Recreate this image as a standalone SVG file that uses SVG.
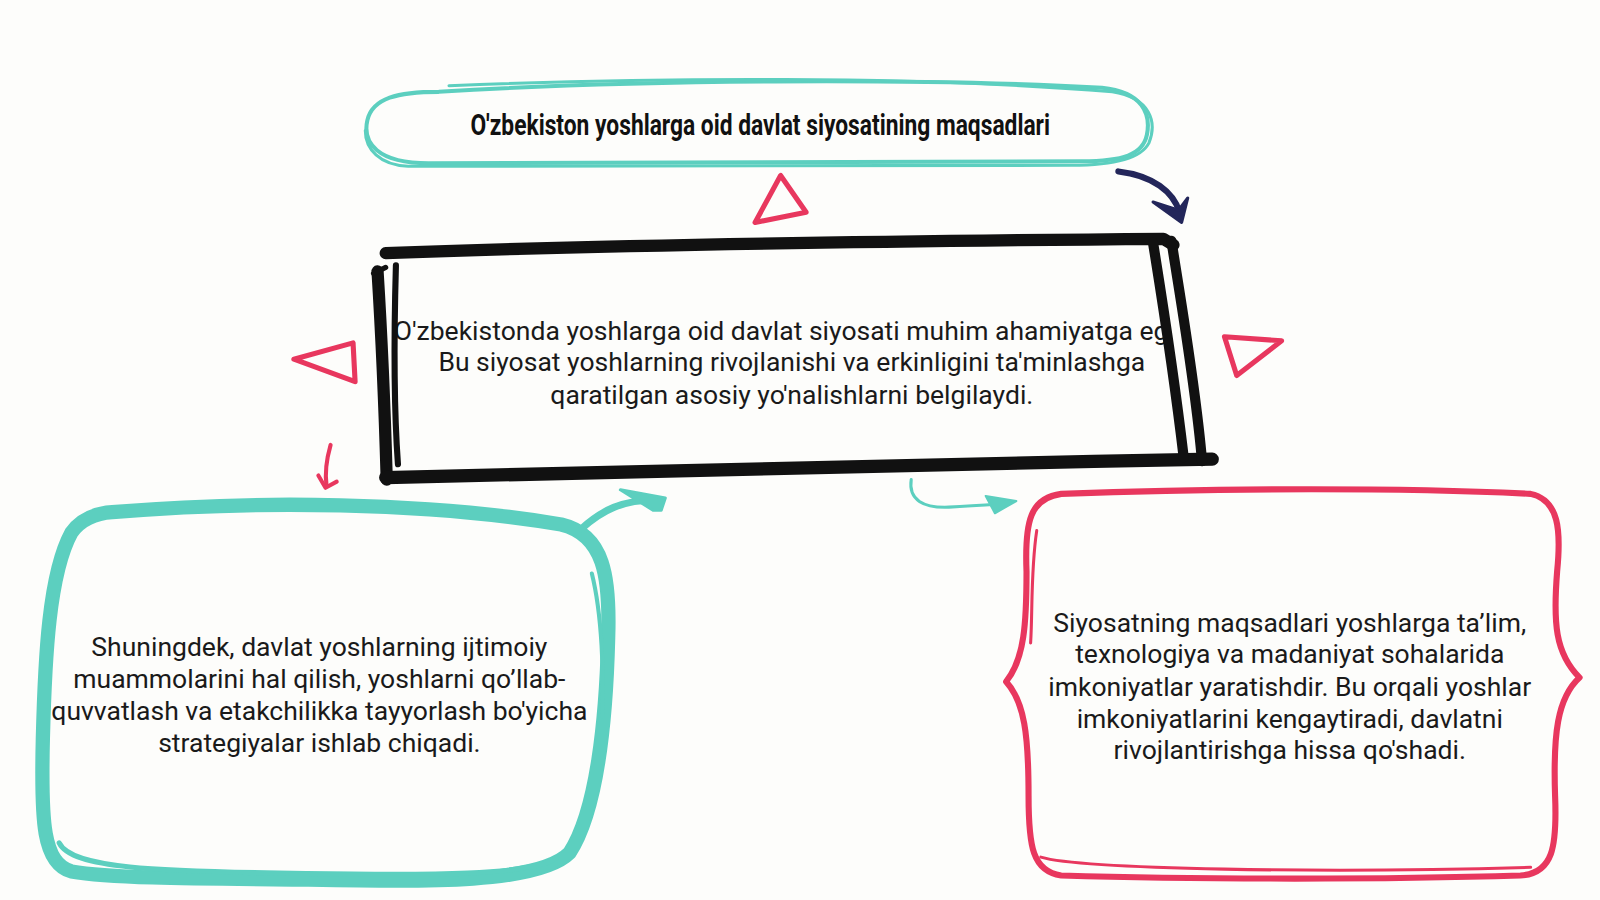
<svg xmlns="http://www.w3.org/2000/svg" width="1600" height="900" viewBox="0 0 1600 900">
<style>
.teal{fill:none;stroke:#5CCFBF;stroke-linecap:round;stroke-linejoin:round}
.pink{fill:none;stroke:#E8375E;stroke-linecap:round;stroke-linejoin:round}
.blk{fill:none;stroke:#111;stroke-linecap:round;stroke-linejoin:round}
.txt{font-family:Roboto,"Liberation Sans",sans-serif;font-size:26px;fill:#1a1a1a;text-anchor:middle}
.ttl{font-family:Roboto,"Liberation Sans",sans-serif;font-size:28px;font-weight:bold;fill:#111;text-anchor:middle}
</style>
<defs>
  <clipPath id="cclip"><rect x="360" y="230" width="785" height="240"/></clipPath>
</defs>
<rect width="1600" height="900" fill="#FDFDFB"/>
<g transform="scale(1.0204)">

<g id="title">
  <path class="teal" stroke-width="4" d="M430,90 C620,78 900,76 1080,86 C1120,90 1128,112 1124,132 C1120,152 1100,158 1060,158 L420,160 C370,160 355,140 360,118 C365,96 390,90 430,90 Z"/>
  <path class="teal" stroke-width="3" d="M440,84 C640,76 900,74 1090,90 C1128,96 1134,120 1126,140 C1118,156 1090,162 1050,162 L400,163 C372,162 358,146 358,128"/>
  <text class="ttl" x="745" y="132" textLength="568" lengthAdjust="spacingAndGlyphs">O'zbekiston yoshlarga oid davlat siyosatining maqsadlari</text>
</g>

<g id="center">
  <g clip-path="url(#cclip)">
    <text class="txt" x="776" y="333">O'zbekistonda yoshlarga oid davlat siyosati muhim ahamiyatga ega.</text>
  </g>
  <text class="txt" x="776" y="364">Bu siyosat yoshlarning rivojlanishi va erkinligini ta'minlashga</text>
  <text class="txt" x="776" y="396">qaratilgan asosiy yo'nalishlarni belgilaydi.</text>
  <path class="blk" stroke-width="12" d="M378,248 C600,240 900,236 1140,234 L1150,240"/>
  <path class="blk" stroke-width="12" d="M370,266 C374,330 377,400 379,470"/>
  <path class="blk" stroke-width="6" d="M388,260 C386,330 386,400 390,455"/>
  <path class="blk" stroke-width="5" d="M366,268 L378,262"/>
  <path class="blk" stroke-width="13" d="M378,468 C600,462 900,455 1188,450"/>
  <path class="blk" stroke-width="10" d="M1130,238 C1140,300 1152,380 1160,448"/>
  <path class="blk" stroke-width="10" d="M1148,236 C1158,300 1172,380 1178,452"/>
</g>

<g id="left">
  <path class="teal" stroke-width="14" d="M110,502 C250,490 420,492 550,514 C592,524 598,565 596,625 C594,705 585,795 558,836 C528,866 420,864 300,862 C200,861 110,861 70,854 C42,846 40,806 42,724 C44,644 48,562 70,522 C80,508 95,503 110,502 Z"/>
  <path class="teal" stroke-width="5" d="M58,826 C70,851 150,854 300,856 C420,858 520,858 545,841"/>
  <path class="teal" stroke-width="4" d="M580,562 C590,602 592,662 590,702"/>
  <text class="txt" x="313" y="643">Shuningdek, davlat yoshlarning ijtimoiy</text>
  <text class="txt" x="313" y="674">muammolarini hal qilish, yoshlarni qo’llab-</text>
  <text class="txt" x="313" y="706">quvvatlash va etakchilikka tayyorlash bo'yicha</text>
  <text class="txt" x="313" y="737">strategiyalar ishlab chiqadi.</text>
</g>

<g id="right">
  <path class="pink" stroke-width="6" d="M1040,484 C1200,478 1380,478 1500,484 C1528,490 1530,520 1526,560 C1522,610 1524,640 1548,664 C1526,684 1522,720 1524,780 C1526,830 1522,856 1490,858 C1360,862 1180,862 1040,858 C1012,854 1008,830 1008,780 C1008,720 1004,688 986,668 C1004,646 1006,610 1006,560 C1004,510 1010,488 1040,484 Z"/>
  <path class="pink" stroke-width="3" d="M1016,520 C1010,560 1012,600 1010,630"/>
  <path class="pink" stroke-width="3" d="M1020,840 C1060,852 1300,856 1500,850"/>
  <text class="txt" x="1264" y="619">Siyosatning maqsadlari yoshlarga ta’lim,</text>
  <text class="txt" x="1264" y="650">texnologiya va madaniyat sohalarida</text>
  <text class="txt" x="1264" y="682">imkoniyatlar yaratishdir. Bu orqali yoshlar</text>
  <text class="txt" x="1264" y="713">imkoniyatlarini kengaytiradi, davlatni</text>
  <text class="txt" x="1264" y="744">rivojlantirishga hissa qo'shadi.</text>
</g>

<g id="triangles">
  <path class="pink" stroke-width="5" d="M765,172 L740,218 L790,208 Z"/>
  <path class="pink" stroke-width="5" d="M288,352 L346,336 L348,374 Z"/>
  <path class="pink" stroke-width="5" d="M1200,330 L1256,334 L1212,368 Z"/>
</g>

<g id="connectors">
  <path fill="none" stroke="#23265A" stroke-width="6" stroke-linecap="round" d="M1096,168 C1130,172 1150,188 1156,208"/>
  <path fill="#23265A" stroke="#23265A" stroke-width="3" stroke-linejoin="round" d="M1130,198 L1158,218 L1164,194 L1155,206 Z"/>
  <path class="pink" stroke-width="4" d="M324,436 C320,450 318,462 320,476"/>
  <path class="pink" stroke-width="4" d="M312,466 L319,478 L330,472"/>
  <path class="teal" stroke-width="7" d="M570,518 C590,500 610,490 642,490"/>
  <path fill="#5CCFBF" stroke="#5CCFBF" stroke-width="3" stroke-linejoin="round" d="M608,480 L652,488 L648,500 L640,500 Z"/>
  <path class="teal" stroke-width="3" d="M893,470 C890,490 905,498 930,497 C950,496 965,495 980,494"/>
  <path fill="#5CCFBF" stroke="#5CCFBF" stroke-width="2" stroke-linejoin="round" d="M966,486 L996,491 L975,503 Z"/>
</g>
</g>
</svg>
